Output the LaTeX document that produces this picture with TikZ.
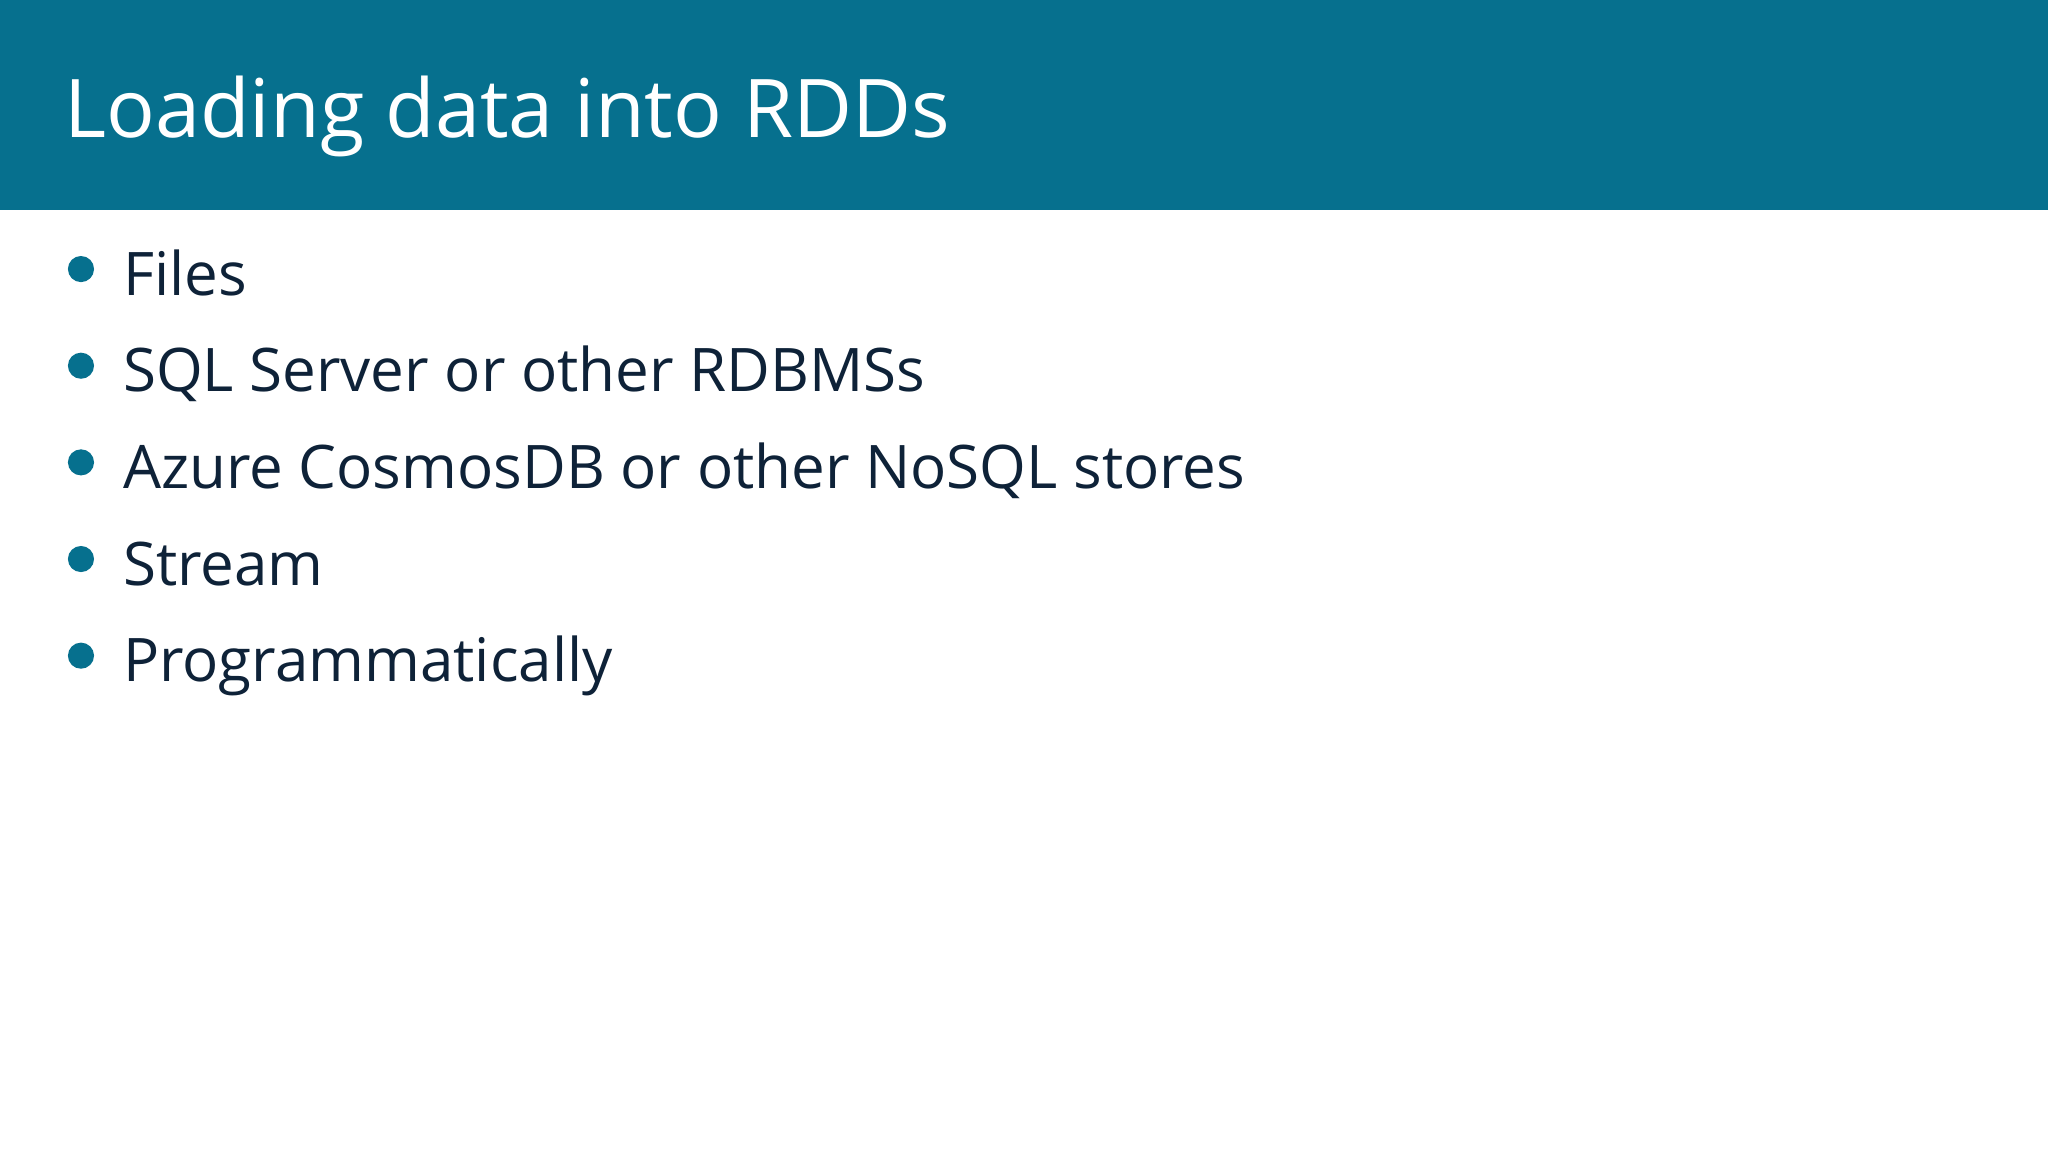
\documentclass[tikz,border=0pt]{standalone}
\usepackage{fontspec}
\setmainfont{Open Sans}
\definecolor{hdr}{HTML}{06708E}
\definecolor{txt}{HTML}{0E2238}
\begin{document}
\begin{tikzpicture}[x=1pt,y=-1pt,
  item/.style={anchor=base west,inner sep=0pt,text=txt,font=\fontsize{46}{50}\selectfont},
  dot/.style={fill=hdr,draw=none}]
\useasboundingbox (0,0) rectangle (1568,882);
\fill[white] (0,0) rectangle (1568,882);
\fill[hdr] (0,0) rectangle (1568,161);
\node[anchor=base west,inner sep=0pt,text=white,font=\fontsize{62}{66}\selectfont] (title) at (49,105) {Loading data into RDDs};
\foreach \t [count=\i] in {Files,SQL Server or other RDBMSs,Azure CosmosDB or other NoSQL stores,Stream,Programmatically}{
  \node[item] (b\i) at (94,{226+74*(\i-1)}) {\t};
  \fill[dot] (62,{206+74*(\i-1)}) circle (10);
}
\end{tikzpicture}
\end{document}
